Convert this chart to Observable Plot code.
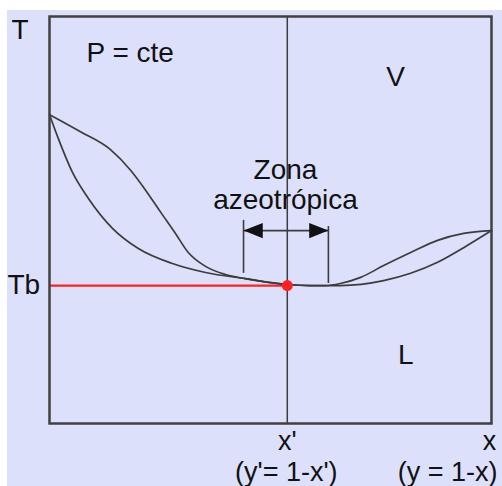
<!DOCTYPE html>
<html>
<head>
<meta charset="utf-8">
<script src="https://cdn.jsdelivr.net/npm/d3@7"></script>
<script src="https://cdn.jsdelivr.net/npm/@observablehq/plot@0.6"></script>
<style>
  html, body { margin: 0; padding: 0; background: #ffffff; }
  #wrap { padding: 10px 0 0 7px; width: 495px; height: 476px; }
  #wrap svg { background: #dce0fa; display: block; }
</style>
</head>
<body>
<div id="wrap"></div>
<script>
// Vapour (dew) curve: composition x and temperature T (0-100 scale)
const vaporX = [0, 0.070, 0.138, 0.183, 0.217, 0.251, 0.285, 0.314, 0.353, 0.398, 0.443, 0.500, 0.538, 0.590, 0.624, 0.658, 0.704, 0.756, 0.817, 0.878, 0.937, 1];
const vaporT = [75.9, 71.7, 67.3, 62.3, 57.4, 52.0, 46.7, 42.0, 38.6, 36.6, 35.6, 34.6, 34.15, 33.9, 33.9, 34.4, 35.9, 38.8, 42.0, 45.0, 46.7, 47.4];
// Liquid (bubble) curve
const liquidX = [0, 0.020, 0.052, 0.088, 0.143, 0.201, 0.278, 0.353, 0.443, 0.538, 0.590, 0.658, 0.756, 0.817, 0.878, 0.937, 1];
const liquidT = [75.9, 70.0, 61.7, 55.3, 47.9, 43.0, 39.3, 37.1, 35.6, 34.15, 33.9, 33.9, 35.1, 36.9, 39.6, 43.2, 47.4];

// Azeotrope
const azeoX = 0.538;
const azeoT = 33.9;
// Azeotropic zone limits
const zoneX = [0.439, 0.631];
const zoneBarTop = [49.9, 48.4];
const zoneBarBottom = [36.9, 34.4];
const zoneArrowT = 47.4;

// Labels
const axisLabelT = "T";
const pressureLabel = "P = cte";
const vaporLabel = "V";
const liquidLabel = "L";
const zoneLabel = "Zona\nazeotrópica";
const tbLabel = "Tb";
const xPrimeLabel = "x'";
const yPrimeLabel = "(y'= 1-x')";
const xLabel = "x";
const yLabel = "(y = 1-x)";

const vapor = vaporX.map((x, i) => ({x, T: vaporT[i]}));
const liquid = liquidX.map((x, i) => ({x, T: liquidT[i]}));
const bars = zoneX.map((x, i) => ({x, y1: zoneBarBottom[i], y2: zoneBarTop[i]}));
const heads = [{x: zoneX[0], T: zoneArrowT, rot: 180}, {x: zoneX[1], T: zoneArrowT, rot: 0}];

const arrowHead = {
  draw(context, size) {
    const r = Math.sqrt(size / Math.PI);
    const L = 2.4 * r, H = 0.95 * r;
    context.moveTo(0, 0);
    context.lineTo(-L, -H);
    context.lineTo(-L, H);
    context.closePath();
  }
};

const ink = "#3c3c3c";
const red = "#ff2020";
const font = "'Liberation Sans', Arial, sans-serif";
const fs = 28;
const fsB = 27;

const plot = Plot.plot({
  width: 495,
  height: 476,
  marginLeft: 42,
  marginRight: 11,
  marginTop: 6,
  marginBottom: 63,
  style: {background: "#dce0fa", fontFamily: font},
  x: {domain: [0, 1], axis: null},
  y: {domain: [0, 100], axis: null},
  marks: [
    Plot.ruleX([azeoX], {stroke: ink, strokeWidth: 1.5}),
    Plot.ruleY([azeoT], {x1: 0, x2: azeoX, stroke: red, strokeWidth: 2.2}),
    Plot.line(vapor, {x: "x", y: "T", curve: "monotone-x", stroke: ink, strokeWidth: 1.7}),
    Plot.line(liquid, {x: "x", y: "T", curve: "monotone-x", stroke: ink, strokeWidth: 1.7}),
    Plot.ruleX(bars, {x: "x", y1: "y1", y2: "y2", stroke: ink, strokeWidth: 1.6}),
    Plot.ruleY([zoneArrowT], {x1: zoneX[0], x2: zoneX[1], stroke: ink, strokeWidth: 1.6}),
    Plot.dot(heads, {x: "x", y: "T", rotate: "rot", symbol: arrowHead, r: 8, fill: "#111", stroke: "none"}),
    Plot.dot([{x: azeoX, T: azeoT}], {x: "x", y: "T", r: 5.5, fill: red, stroke: "none"}),
    Plot.frame({stroke: "#404040", strokeWidth: 2.5}),
    // labels
    Plot.text([axisLabelT], {text: d => d, frameAnchor: "top-left", textAnchor: "start", lineAnchor: "bottom", dx: -38, dy: 22, fontSize: fs, fill: "#111"}),
    Plot.text([pressureLabel], {text: d => d, frameAnchor: "top-left", textAnchor: "start", lineAnchor: "bottom", dx: 37, dy: 45, fontSize: fs, fill: "#111"}),
    Plot.text([vaporLabel], {text: d => d, x: 0.783, frameAnchor: "top", lineAnchor: "bottom", dy: 69, fontSize: fs, fill: "#111"}),
    Plot.text([liquidLabel], {text: d => d, x: 0.806, y: 14.5, lineAnchor: "bottom", fontSize: fs, fill: "#111"}),
    Plot.text([zoneLabel], {text: d => d, x: 0.534, y: 52.6, lineAnchor: "bottom", lineHeight: 1.1, fontSize: fs, fill: "#111"}),
    Plot.text([tbLabel], {text: d => d, y: azeoT, frameAnchor: "left", textAnchor: "start", lineAnchor: "bottom", dx: -42, dy: 8, fontSize: fs, fill: "#111"}),
    Plot.text([xPrimeLabel], {text: d => d, x: azeoX, frameAnchor: "bottom", lineAnchor: "bottom", dy: 26, fontSize: fsB, fill: "#111"}),
    Plot.text([yPrimeLabel], {text: d => d, x: azeoX, frameAnchor: "bottom", lineAnchor: "bottom", dx: -1, dy: 57, fontSize: fsB, fill: "#111"}),
    Plot.text([xLabel], {text: d => d, x: 1, frameAnchor: "bottom", lineAnchor: "bottom", dx: -2, dy: 26, fontSize: fsB, fill: "#111"}),
    Plot.text([yLabel], {text: d => d, x: 1, frameAnchor: "bottom", textAnchor: "end", lineAnchor: "bottom", dx: 6, dy: 57, fontSize: fsB, fill: "#111"})
  ]
});
document.getElementById("wrap").appendChild(plot);
</script>
</body>
</html>
